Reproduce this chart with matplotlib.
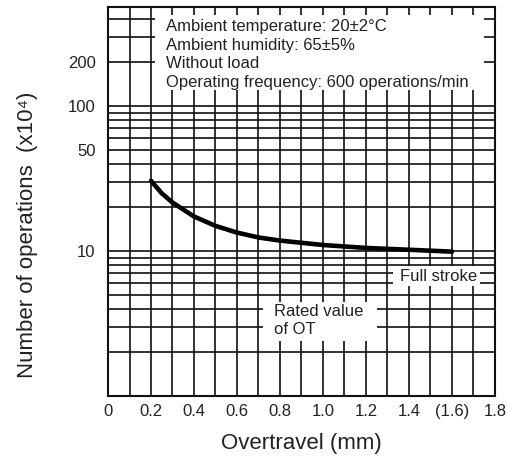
"""Overtravel vs. number of operations (durability chart)."""

import matplotlib
matplotlib.use("Agg")
import matplotlib.pyplot as plt
from matplotlib.patches import Rectangle
from matplotlib.ticker import FixedLocator, LogLocator, NullFormatter

plt.rcParams['font.family'] = ['Liberation Sans', 'DejaVu Sans']

# values
overtravel = [0.2, 0.25, 0.3, 0.4, 0.5, 0.6, 0.7, 0.8, 1.0, 1.2, 1.4, 1.6]
operations = [30.5, 25.0, 21.6, 17.3, 14.9, 13.4, 12.4, 11.8, 11.0, 10.5, 10.2, 9.9]

x_ticks = [0, 0.2, 0.4, 0.6, 0.8, 1.0, 1.2, 1.4, 1.6, 1.8]
x_labels = ['0', '0.2', '0.4', '0.6', '0.8', '1.0', '1.2', '1.4', '(1.6)', '1.8']
y_ticks = [10, 50, 100, 200]
y_labels = ['10', '50', '100', '200']

conditions = ["Ambient temperature: 20\u00b12\u00b0C",
              "Ambient humidity: 65\u00b15%",
              "Without load",
              "Operating frequency: 600 operations/min"]

txt = '#222222'

fig = plt.figure(figsize=(5.08, 4.57), dpi=100)
ax = fig.add_axes([0.2126, 0.1335, 0.7618, 0.8512])

ax.set_yscale('log')
ax.set_xlim(0, 1.8)
ax.set_ylim(1, 482)

# grid: every 0.1 mm, log minor lines
ax.xaxis.set_minor_locator(FixedLocator([i / 10 for i in range(19)]))
ax.yaxis.set_major_locator(FixedLocator(y_ticks))
ax.yaxis.set_minor_locator(LogLocator(base=10, subs=range(1, 10)))
ax.yaxis.set_minor_formatter(NullFormatter())
ax.grid(True, which='both', color='#111111', linewidth=1.2)
ax.set_axisbelow(True)

ax.set_xticks(x_ticks)
ax.set_xticklabels(x_labels)
ax.set_yticklabels(y_labels)
ax.tick_params(which='both', length=0, labelsize=12, labelcolor=txt)
ax.tick_params(axis='x', pad=6)
ax.tick_params(axis='y', pad=9)

for sp in ax.spines.values():
    sp.set_linewidth(1.5)
    sp.set_color('#111111')

# white boxes hiding the grid behind the notes
ax.add_patch(Rectangle((0.219, 129), 1.53, 425 - 129, facecolor='white',
                       edgecolor='none', zorder=1.5))
ax.add_patch(Rectangle((1.326, 5.74), 0.404, 7.88 - 5.74, facecolor='white',
                       edgecolor='none', zorder=1.5))
ax.add_patch(Rectangle((0.72, 2.39), 0.53, 4.45 - 2.39, facecolor='white',
                       edgecolor='none', zorder=1.5))

ax.plot(overtravel, operations, color='black', linewidth=3.3,
        solid_capstyle='round', solid_joinstyle='round', zorder=3)

ax.text(0.270, 10 ** (2 + 87 / 145), "\n".join(conditions), fontsize=12,
        color=txt, va='top', ha='left', linespacing=1.3, zorder=4)
ax.text(1.36, 10 ** (1 - 25 / 145), "Full stroke", fontsize=12, color=txt,
        va='center', ha='left', zorder=4)
ax.text(0.77, 10 ** (1 - 70 / 145), "Rated value\nof OT", fontsize=12,
        color=txt, va='center', ha='left', linespacing=1.25, zorder=4)

ax.set_xlabel("Overtravel (mm)", fontsize=16, color=txt, labelpad=10)
ax.set_ylabel("Number of operations  (x10\u2074)", fontsize=16, color=txt,
              va='center')
ax.yaxis.set_label_coords(-0.209, 0.414)

fig.savefig("out.png", dpi=100)
